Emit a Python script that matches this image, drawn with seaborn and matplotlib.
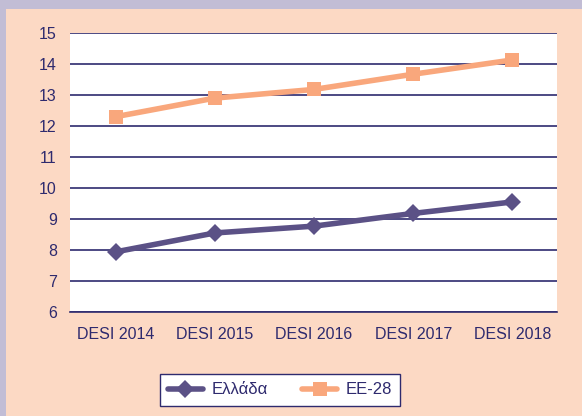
import numpy as np
import pandas as pd
import matplotlib.pyplot as plt
import seaborn as sns
from matplotlib.patches import Rectangle

years = ["DESI 2014", "DESI 2015", "DESI 2016", "DESI 2017", "DESI 2018"]
greece = [7.94, 8.55, 8.77, 9.18, 9.55]
eu28 = [12.3, 12.9, 13.18, 13.67, 14.13]
series_names = ["Ελλάδα", "ΕΕ-28"]

NAVY = "#2E2A6E"
PURPLE = "#5B5186"
ORANGE = "#F9A77C"
PEACH = "#FCD9C4"
LAVENDER = "#C2BDD5"

df = pd.DataFrame({
    "year": years * 2,
    "value": greece + eu28,
    "series": [series_names[0]] * 5 + [series_names[1]] * 5,
})
df["x"] = df["year"].map({y: i for i, y in enumerate(years)})

sns.set_theme(style="white")
plt.rcParams["font.family"] = ["Liberation Sans", "DejaVu Sans"]

fig = plt.figure(figsize=(5.82, 4.16), dpi=100)
fig.patch.set_facecolor(LAVENDER)
fig.patches.append(Rectangle((6 / 582, 0), 1, 1 - 9 / 416,
                             transform=fig.transFigure, facecolor=PEACH,
                             edgecolor="none", zorder=-10))

ax = fig.add_axes([70 / 582, 104 / 416, 487 / 582, 279 / 416])
ax.set_facecolor("white")

sns.lineplot(data=df, x="x", y="value", hue="series", style="series",
             palette=[PURPLE, ORANGE], markers=["D", "s"], dashes=False,
             linewidth=4, markersize=9.5, markeredgewidth=0, ax=ax,
             legend=True)

ax.set_xlim(-0.46, 4.45)
ax.set_ylim(6, 15)
ax.set_yticks(range(6, 16))
ax.set_xticks(range(5))
ax.set_xticklabels(years)
ax.yaxis.grid(True, color=NAVY, linewidth=1.2)
ax.set_axisbelow(True)
for s in ["top", "right", "left"]:
    ax.spines[s].set_visible(False)
ax.spines["bottom"].set_color(NAVY)
ax.spines["bottom"].set_linewidth(1.2)
ax.tick_params(axis="both", colors=NAVY, labelsize=11.5, length=0)
ax.tick_params(axis="x", pad=11)
ax.tick_params(axis="y", pad=9.5)
ax.set_xlabel("")
ax.set_ylabel("")

handles, labels = ax.get_legend_handles_labels()
ax.legend_.remove()
leg = fig.legend(handles, labels, loc="center", ncol=2,
                 bbox_to_anchor=(280 / 582, 1 - 390 / 416),
                 frameon=True, fancybox=False, fontsize=12,
                 handlelength=2.1, handletextpad=0.5, columnspacing=2.1,
                 borderpad=0.5)
leg.get_frame().set_edgecolor(NAVY)
leg.get_frame().set_linewidth(1)
leg.get_frame().set_facecolor("white")
leg.get_frame().set_alpha(1)
for t in leg.get_texts():
    t.set_color(NAVY)

fig.savefig("out.png", dpi=100, facecolor=fig.get_facecolor())
